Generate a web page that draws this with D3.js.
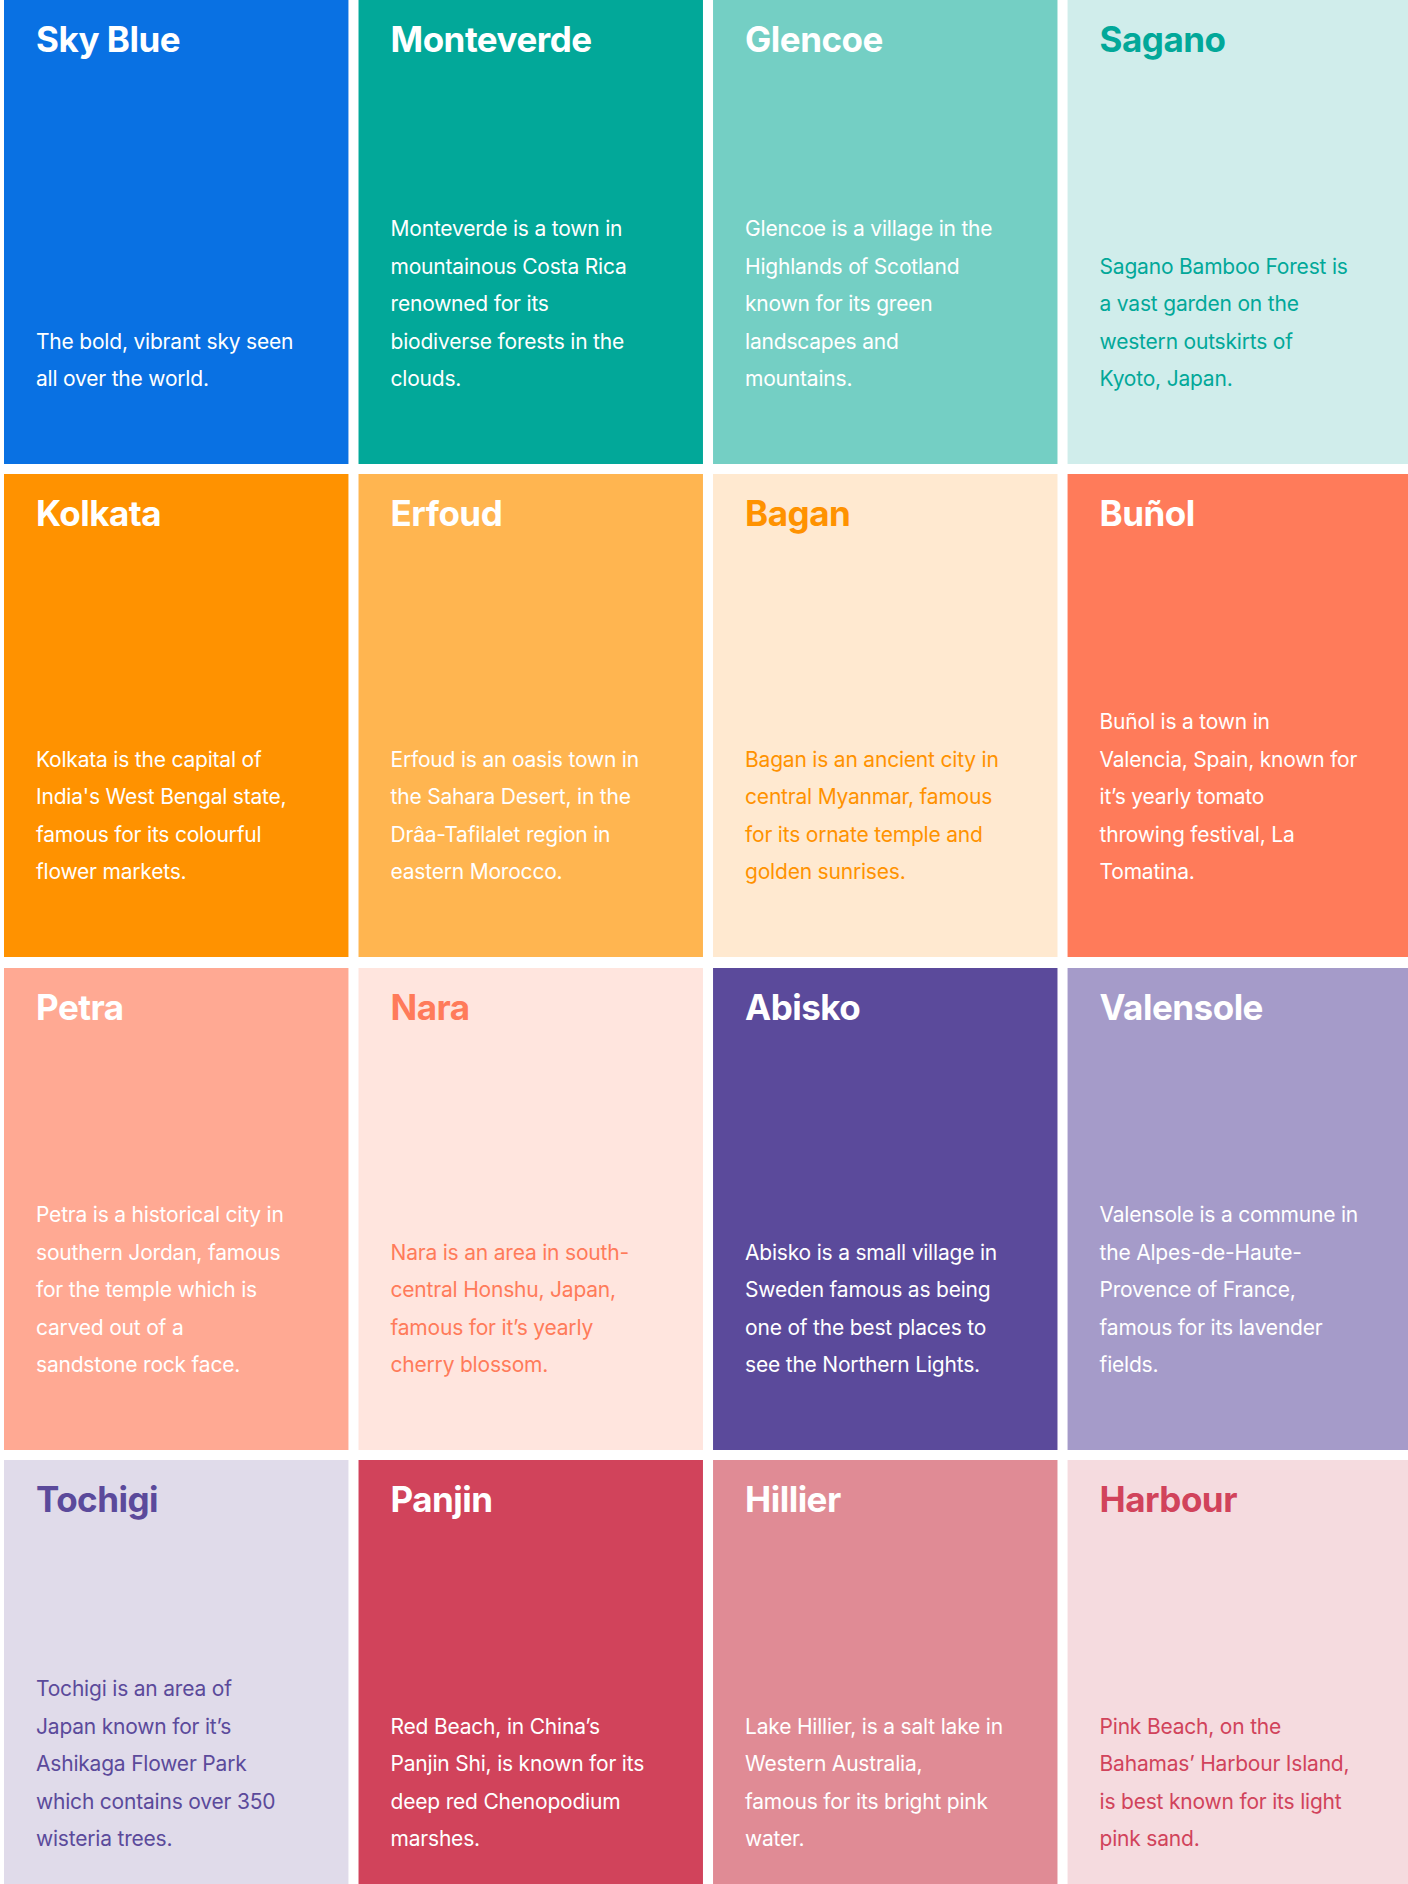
<!DOCTYPE html>
<html lang="en">
<head>
<meta charset="UTF-8">
<title>Colour places</title>
<script src="https://d3js.org/d3.v7.min.js"></script>
<style>
  body { margin: 0; background: #fff; }
  svg { display: block; font-family: Inter, "Noto Sans", sans-serif; }
</style>
</head>
<body>
<svg id="chart" width="1408" height="1884"></svg>
<script>
// card names, fill colours, text colours and description lines
const names = ["Sky Blue", "Monteverde", "Glencoe", "Sagano",
  "Kolkata", "Erfoud", "Bagan", "Buñol",
  "Petra", "Nara", "Abisko", "Valensole",
  "Tochigi", "Panjin", "Hillier", "Harbour"];

const fills = ["#0971e3", "#02a899", "#74cfc4", "#d0edeb",
  "#ff9200", "#ffb550", "#ffe9d0", "#ff7b5a",
  "#ffa993", "#ffe5de", "#5b4a9b", "#a59bc9",
  "#e0dbea", "#d1435b", "#e08b95", "#f5dbdf"];

const inks = ["#fff", "#fff", "#fff", "#02a899",
  "#fff", "#fff", "#ff9200", "#fff",
  "#fff", "#ff7b5a", "#fff", "#fff",
  "#5b4a9b", "#fff", "#fff", "#d1435b"];

const descriptions = [
  ["The bold, vibrant sky seen", "all over the world."],
  ["Monteverde is a town in", "mountainous Costa Rica", "renowned for its", "biodiverse forests in the", "clouds."],
  ["Glencoe is a village in the", "Highlands of Scotland", "known for its green", "landscapes and", "mountains."],
  ["Sagano Bamboo Forest is", "a vast garden on the", "western outskirts of", "Kyoto, Japan."],
  ["Kolkata is the capital of", "India's West Bengal state,", "famous for its colourful", "flower markets."],
  ["Erfoud is an oasis town in", "the Sahara Desert, in the", "Drâa-Tafilalet region in", "eastern Morocco."],
  ["Bagan is an ancient city in", "central Myanmar, famous", "for its ornate temple and", "golden sunrises."],
  ["Buñol is a town in", "Valencia, Spain, known for", "it’s yearly tomato", "throwing festival, La", "Tomatina."],
  ["Petra is a historical city in", "southern Jordan, famous", "for the temple which is", "carved out of a", "sandstone rock face."],
  ["Nara is an area in south-", "central Honshu, Japan,", "famous for it’s yearly", "cherry blossom."],
  ["Abisko is a small village in", "Sweden famous as being", "one of the best places to", "see the Northern Lights."],
  ["Valensole is a commune in", "the Alpes-de-Haute-", "Provence of France,", "famous for its lavender", "fields."],
  ["Tochigi is an area of", "Japan known for it’s", "Ashikaga Flower Park", "which contains over 350", "wisteria trees."],
  ["Red Beach, in China’s", "Panjin Shi, is known for its", "deep red Chenopodium", "marshes."],
  ["Lake Hillier, is a salt lake in", "Western Australia,", "famous for its bright pink", "water."],
  ["Pink Beach, on the", "Bahamas’ Harbour Island,", "is best known for its light", "pink sand."]
];

const cards = names.map((n, i) => ({name: n, fill: fills[i], ink: inks[i], lines: descriptions[i], col: i % 4, row: Math.floor(i / 4)}));

const svg = d3.select("#chart");

const x = d3.scaleBand().domain(d3.range(4)).range([4, 1412]).paddingInner(10 / 352).paddingOuter(0);
// row tops and heights (rows differ a little in height)
const rowTop = [0, 474, 968, 1460];
const rowH = [464, 483, 482, 464];
const lineH = 37.5;

const g = svg.selectAll("g.card").data(cards).join("g")
  .attr("class", "card")
  .attr("transform", d => `translate(${x(d.col)},${rowTop[d.row]})`);

g.append("rect")
  .attr("width", x.bandwidth())
  .attr("height", d => rowH[d.row])
  .attr("fill", d => d.fill);

g.append("text")
  .attr("x", 32).attr("y", 52)
  .attr("fill", d => d.ink)
  .attr("font-size", 35).attr("font-weight", 700)
  .attr("letter-spacing", -0.5)
  .text(d => d.name);

g.append("text")
  .attr("fill", d => d.ink)
  .attr("font-size", 21)
  .attr("letter-spacing", -0.2)
  .selectAll("tspan").data(d => d.lines.map((t, k) => ({t, k, n: d.lines.length, row: d.row})))
  .join("tspan")
  .attr("x", 32)
  .attr("y", l => rowH[l.row] - 78 - (l.n - 1 - l.k) * lineH)
  .text(l => l.t);
</script>
</body>
</html>
